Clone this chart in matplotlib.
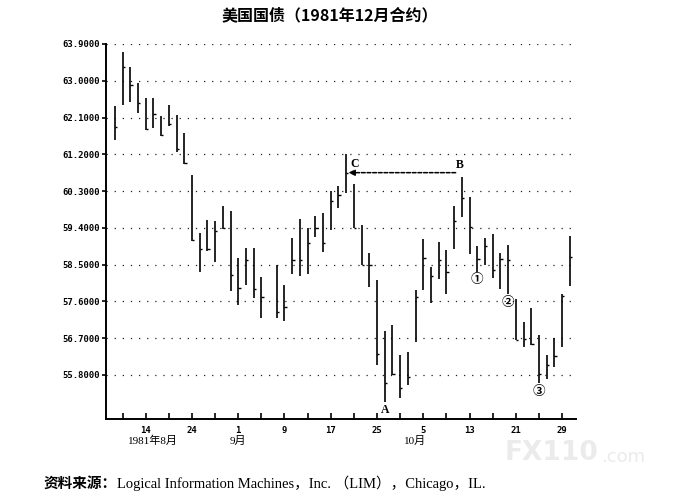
import numpy as np
import pandas as pd
import matplotlib
matplotlib.use('Agg')
import matplotlib.pyplot as plt
import matplotlib.transforms as mtransforms

plt.rcParams['font.family'] = ['Noto Sans CJK SC', 'DejaVu Sans']

# daily bars, US T-bond Dec 1981 contract (weekdays, Labor Day missing)
holiday = ['1981-09-07']
highs = [62.37, 63.71, 63.33, 62.94, 62.58, 62.58, 62.14, 62.41, 62.15, 61.72,
         60.69, 59.28, 59.60, 59.56, 59.94, 59.81, 58.65, 58.91, 58.91, 58.20,
         58.50, 57.99, 59.15, 59.61, 59.39, 59.68, 59.76, 60.29, 60.42,
         61.20, 60.48, 59.46, 58.79, 58.13, 56.87, 57.03, 56.29, 56.37, 57.87,
         59.12, 58.45, 59.05, 58.85, 59.93, 60.64, 60.15, 58.95, 59.15, 59.26,
         58.78, 58.99, 57.66, 57.09, 57.43, 56.78, 56.29, 56.70, 57.77, 59.21]
lows = [61.56, 62.41, 62.47, 62.21, 61.80, 61.85, 61.65, 61.89, 61.26, 60.96,
        59.07, 58.32, 58.84, 58.57, 59.37, 57.85, 57.52, 57.99, 57.69, 57.18,
        57.20, 57.13, 58.28, 58.21, 58.26, 59.17, 58.82, 59.35, 59.88,
        60.26, 59.39, 58.48, 57.96, 56.04, 55.13, 55.80, 55.23, 55.54, 56.60,
        57.87, 57.56, 58.14, 57.79, 58.89, 59.66, 58.77, 58.33, 58.48, 58.18,
        57.91, 57.77, 56.66, 56.49, 56.53, 55.60, 55.70, 55.99, 56.49, 57.97]
closes = [61.87, 63.33, 62.90, 62.46, 61.83, 62.18, 61.67, 61.93, 61.34, 60.98,
          59.11, 58.87, 58.88, 59.32, 59.40, 58.25, 57.93, 58.60, 57.91, 57.70,
          57.35, 57.46, 58.62, 58.62, 59.03, 59.40, 59.03, 60.05, 60.20,
          60.75, 59.40, 58.50, 58.48, 56.31, 55.60, 55.82, 55.48, 55.74, 57.70,
          58.66, 58.23, 58.60, 58.33, 59.56, 60.14, 59.42, 58.64, 58.95, 58.37,
          58.64, 58.62, 56.66, 56.68, 56.56, 55.82, 56.03, 56.27, 57.72, 58.68]

ytick_vals = [55.8, 56.7, 57.6, 58.5, 59.4, 60.3, 61.2, 62.1, 63.0, 63.9]
xlabel_dates = ['1981-08-14', '1981-08-24', '1981-09-01', '1981-09-09', '1981-09-17',
                '1981-09-25', '1981-10-05', '1981-10-13', '1981-10-21', '1981-10-29']
xlabel_text = ['14', '24', '1', '9', '17', '25', '5', '13', '21', '29']
month_dates = ['1981-08-17', '1981-09-01', '1981-10-02']
month_text = ['1981年8月', '9月', '10月']

weekdays = pd.bdate_range('1981-08-10', '1981-10-30')
trade_days = weekdays.drop(pd.to_datetime(holiday))
x = weekdays.get_indexer(trade_days)
highs = np.array(highs)
lows = np.array(lows)
closes = np.array(closes)

def pos(d):
    return weekdays.get_loc(pd.Timestamp(d))

fig = plt.figure(figsize=(6.85, 5.01), dpi=100)
ax = fig.add_axes([0.1547, 0.1637, 0.6861, 0.7485])

ax.vlines(x, lows, highs, color='black', linewidth=1.2)
ax.hlines(closes, x, x + 0.3, color='black', linewidth=1.0)

for v in ytick_vals:
    ax.axhline(v, color='#222222', linewidth=0.9, linestyle=(0, (1, 5.5)), zorder=0)

ax.set_xlim(-1.15, 59.8)
ax.set_ylim(54.72, 63.9)
for s in ['top', 'right']:
    ax.spines[s].set_visible(False)
ax.spines['left'].set_linewidth(1.4)
ax.spines['bottom'].set_linewidth(1.4)

ax.set_yticks(ytick_vals)
ax.set_yticklabels(['%.4f' % v for v in ytick_vals],
                   fontfamily='DejaVu Sans Mono', fontweight='bold', fontsize=6.4)
ax.tick_params(axis='y', length=3, width=1.2, pad=1)

ax.set_xticks(np.arange(1, 59, 3), minor=True)
ax.set_xticks([pos(d) for d in xlabel_dates])
ax.set_xticklabels(xlabel_text, fontfamily='DejaVu Sans Mono', fontweight='bold', fontsize=6.4)
ax.tick_params(axis='x', which='both', direction='in', length=4, width=1.2, pad=5)

trans = mtransforms.blended_transform_factory(ax.transData, ax.transAxes)
for d, t in zip(month_dates, month_text):
    ax.text(pos(d), -0.059, t, transform=trans, ha='center', va='center',
            fontsize=8, family=['Liberation Serif', 'Noto Sans CJK SC'])

# annotations A, B, C and circled points
iB = list(x).index(pos('1981-10-12'))
iC = list(x).index(pos('1981-09-21'))
iA = list(x).index(pos('1981-09-28'))
ax.annotate('', xy=(x[iC] + 0.3, closes[iC]), xytext=(x[iB] - 0.8, closes[iC]),
            arrowprops=dict(arrowstyle='-|>', linestyle=(0, (2.5, 1.2)), color='black',
                            linewidth=1.1, mutation_scale=9, shrinkA=0, shrinkB=0))
lab_font = dict(family=['Liberation Serif'], fontweight='bold', fontsize=8.5,
                ha='center', va='center')
ax.text(x[iC] + 1.1, highs[iC] - 0.25, 'C', **lab_font)
ax.text(x[iB] - 0.3, highs[iB] + 0.3, 'B', **lab_font)
ax.text(x[iA], lows[iA] - 0.2, 'A', **lab_font)
for d, t in zip(['1981-10-14', '1981-10-20', '1981-10-26'], ['①', '②', '③']):
    i = list(x).index(pos(d))
    ax.text(x[i], lows[i] - 0.2, t, ha='center', va='center', fontsize=9,
            fontweight='bold')

fig.text(330 / 685, 1 - 15 / 501, '美国国债（1981年12月合约）', ha='center', va='center',
         fontsize=11.5, fontweight='bold')
fig.text(43 / 685, 1 - 483 / 501, '资料来源：', ha='left', va='center',
         fontsize=10.5, fontweight='bold')
fig.text(117 / 685, 1 - 483 / 501,
         'Logical Information Machines，Inc. （LIM），Chicago，IL.',
         ha='left', va='center', fontsize=10.5,
         family=['Liberation Serif', 'Noto Sans CJK SC'])
fig.text(505 / 685, 1 - 453 / 501, 'FX110', ha='left', va='center', fontsize=19,
         fontweight='bold', color='#ebebeb', family=['DejaVu Sans'])
fig.text(601 / 685, 1 - 457 / 501, '.com', ha='left', va='center', fontsize=13,
         color='#ebebeb', family=['DejaVu Sans'])

fig.savefig('out.png', dpi=100)
